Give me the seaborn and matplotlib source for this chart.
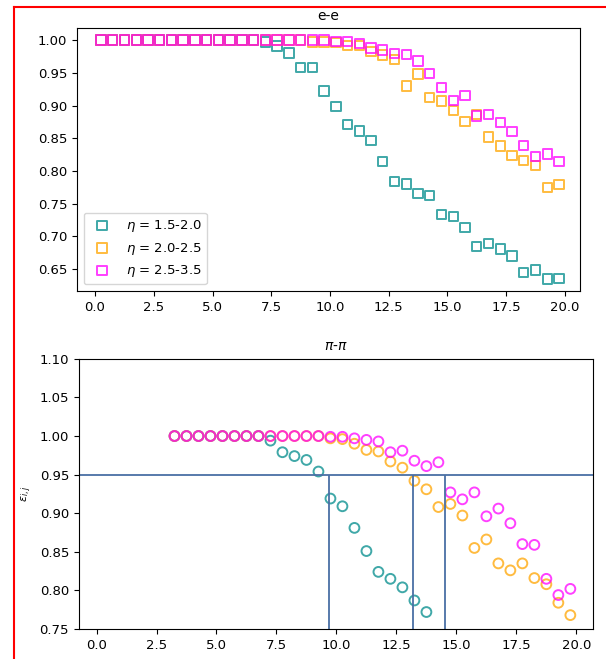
import numpy as np
import pandas as pd
import seaborn as sns
import matplotlib.pyplot as plt
from matplotlib.lines import Line2D

# e-e 효율 (pt 빈 중심값)
ee_x = [0.25, 0.75, 1.25, 1.75, 2.25, 2.75, 3.25, 3.75, 4.25, 4.75,
        5.25, 5.75, 6.25, 6.75, 7.25, 7.75, 8.25, 8.75, 9.25, 9.75,
        10.25, 10.75, 11.25, 11.75, 12.25, 12.75, 13.25, 13.75, 14.25, 14.75,
        15.25, 15.75, 16.25, 16.75, 17.25, 17.75, 18.25, 18.75, 19.25, 19.75]
ee_eta1 = [1.0, 1.0, 1.0, 1.0, 1.0, 1.0, 1.0, 1.0, 1.0, 1.0,
           1.0, 1.0, 1.0, 1.0, 0.997, 0.991, 0.980, 0.958, 0.958, 0.922,
           0.899, 0.871, 0.861, 0.847, 0.814, 0.784, 0.780, 0.766, 0.763, 0.734,
           0.731, 0.714, 0.685, 0.689, 0.681, 0.670, 0.645, 0.649, 0.635, 0.636]
ee_eta2 = [1.0, 1.0, 1.0, 1.0, 1.0, 1.0, 1.0, 1.0, 1.0, 1.0,
           1.0, 1.0, 1.0, 1.0, 1.0, 1.0, 1.0, 1.0, 0.997, 0.997,
           0.996, 0.992, 0.992, 0.983, 0.977, 0.970, 0.930, 0.948, 0.912, 0.907,
           0.892, 0.876, 0.886, 0.852, 0.838, 0.824, 0.816, 0.808, 0.775, 0.779]
ee_eta3 = [1.0, 1.0, 1.0, 1.0, 1.0, 1.0, 1.0, 1.0, 1.0, 1.0,
           1.0, 1.0, 1.0, 1.0, 1.0, 1.0, 1.0, 1.0, 1.0, 1.0,
           0.998, 0.998, 0.995, 0.988, 0.985, 0.979, 0.978, 0.968, 0.949, 0.927,
           0.908, 0.915, 0.884, 0.886, 0.874, 0.860, 0.839, 0.822, 0.826, 0.814]

# pi-pi 효율
pp_x = [3.25, 3.75, 4.25, 4.75, 5.25, 5.75, 6.25, 6.75, 7.25, 7.75,
        8.25, 8.75, 9.25, 9.75, 10.25, 10.75, 11.25, 11.75, 12.25, 12.75,
        13.25, 13.75, 14.25, 14.75, 15.25, 15.75, 16.25, 16.75, 17.25, 17.75,
        18.25, 18.75, 19.25, 19.75]
pp_eta1 = [1.0, 1.0, 1.0, 1.0, 1.0, 1.0, 1.0, 1.0, 0.994, 0.979,
           0.974, 0.969, 0.954, 0.919, 0.909, 0.881, 0.851, 0.824, 0.815, 0.804,
           0.787, 0.772]
pp_eta2 = [1.0, 1.0, 1.0, 1.0, 1.0, 1.0, 1.0, 1.0, 1.0, 1.0,
           1.0, 1.0, 1.0, 0.997, 0.996, 0.990, 0.982, 0.980, 0.967, 0.959,
           0.942, 0.931, 0.908, 0.912, 0.897, 0.855, 0.866, 0.835, 0.826, 0.835,
           0.816, 0.808, 0.784, 0.768]
pp_eta3 = [1.0, 1.0, 1.0, 1.0, 1.0, 1.0, 1.0, 1.0, 1.0, 1.0,
           1.0, 1.0, 1.0, 0.999, 0.999, 0.997, 0.995, 0.993, 0.979, 0.981,
           0.968, 0.961, 0.966, 0.927, 0.918, 0.927, 0.896, 0.906, 0.887, 0.860,
           0.859, 0.815, 0.794, 0.802]

labels = [r'$\eta$ = 1.5-2.0', r'$\eta$ = 2.0-2.5', r'$\eta$ = 2.5-3.5']
colors = ['darkcyan', 'orange', 'magenta']

# 95% 효율 기준선과 교차점
eff_cut = 0.95
cross_pts = [9.68, 13.18, 14.52]

plt.rcParams['font.size'] = 9.5

fig = plt.figure(figsize=(6.06, 6.59), dpi=100)
ax1 = fig.add_axes([0.127, 0.5584, 0.830, 0.399])
ax2 = fig.add_axes([0.130, 0.0455, 0.848, 0.410])

#위쪽 그래프 (e-e)
for ys, c, lab in zip([ee_eta1, ee_eta2, ee_eta3], colors, labels):
    sns.scatterplot(x=ee_x, y=ys, ax=ax1, marker='s', s=45, facecolors='none',
                    edgecolor=c, linewidth=1.4, alpha=0.75, label=lab)
ax1.set_title('e-e', fontsize=10)
ax1.set_xticks([0, 2.5, 5, 7.5, 10, 12.5, 15, 17.5, 20])
ax1.set_xlim(-0.77, 20.64)
ax1.legend(loc='lower left', fontsize=9.5)

#아래쪽 그래프 (pi-pi)
pp_series = [pp_eta1, pp_eta2, pp_eta3]
for ys, c in zip(pp_series, colors):
    sns.scatterplot(x=pp_x[:len(ys)], y=ys, ax=ax2, marker='o', s=50, facecolors='none',
                    edgecolor=c, linewidth=1.4, alpha=0.75)
ax2.axhline(eff_cut, color='#4a6fa5', lw=1.3)
ax2.vlines(cross_pts, 0.75, eff_cut, color='#4a6fa5', lw=1.3)
ax2.set_title(r'$\pi$-$\pi$', fontsize=10)
ax2.set_ylabel(r'$\epsilon_{i,j}$', fontsize=8)
ax2.set_xticks([0, 2.5, 5, 7.5, 10, 12.5, 15, 17.5, 20])
ax2.set_xlim(-0.74, 20.68)
ax2.set_ylim(0.75, 1.10)

# 빨간 테두리
fig.add_artist(Line2D([14/606, 14/606], [0, 1 - 7/659], color='red', lw=1.5, transform=fig.transFigure))
fig.add_artist(Line2D([14/606, 1], [1 - 7/659, 1 - 7/659], color='red', lw=1.5, transform=fig.transFigure))

plt.savefig('out.png', dpi=100)
